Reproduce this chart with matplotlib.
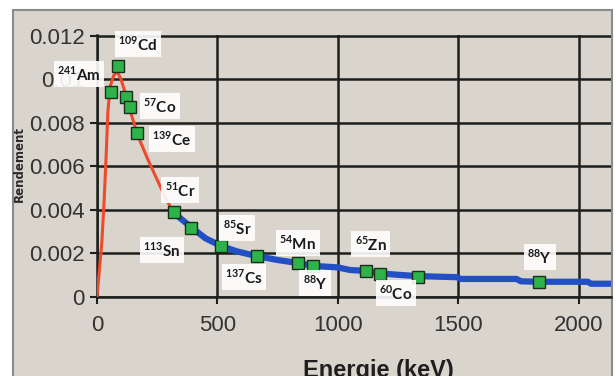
import numpy as np
import matplotlib
matplotlib.use("Agg")
import matplotlib.pyplot as plt
from matplotlib.patches import Rectangle
from matplotlib import font_manager

# efficiency curve, low energy part (red) and high energy part (blue)
red_x = [0, 8, 20, 30, 38, 45, 55, 70, 85, 100, 122, 145, 170, 212, 270, 315]
red_y = [0, 0.001, 0.0025, 0.0045, 0.0065, 0.0085, 0.0097, 0.0102, 0.01035,
         0.0100, 0.0092, 0.0083, 0.0074, 0.0063, 0.0049, 0.0039]
blue_x = [315, 392, 450, 514, 580, 662, 750, 835, 898, 1000, 1050, 1115, 1173,
          1250, 1332, 1494, 1510, 1741, 1760, 1836, 2037, 2050, 2135]
blue_y = [0.0039, 0.0032, 0.0027, 0.00235, 0.0021, 0.00188, 0.0017, 0.00156,
          0.00143, 0.00136, 0.00124, 0.0012, 0.00109, 0.00102, 0.00096, 0.00091,
          0.00083, 0.00083, 0.00072, 0.0007, 0.0007, 0.00061, 0.00061]

# measured points
energies = [59.5, 88, 122, 136, 166, 320, 392, 514, 662, 835, 898, 1115, 1173, 1332, 1836]
eff = [0.00943, 0.01062, 0.0092, 0.00874, 0.00754, 0.0039, 0.00317, 0.00235,
       0.00188, 0.00156, 0.00143, 0.0012, 0.00108, 0.00094, 0.0007]

# nuclide labels
lab_text = ["241", "109", "57", "139", "51", "113", "85", "137", "54", "88", "65", "60", "88"]
lab_name = ["Am", "Cd", "Co", "Ce", "Cr", "Sn", "Sr", "Cs", "Mn", "Y", "Zn", "Co", "Y"]
lab_x = [-75, 170, 261, 311, 344, 270, 581, 610, 834, 905, 1137, 1241, 1838]
lab_y = [0.01025, 0.01163, 0.00878, 0.00726, 0.00492, 0.00216, 0.00317, 0.00092,
         0.00248, 0.00064, 0.00244, 0.00018, 0.00184]

xticks = [0, 500, 1000, 1500, 2000]
yticks = [0, 0.002, 0.004, 0.006, 0.008, 0.01, 0.012]
ytick_labels = ["0", "0.002", "0.004", "0.006", "0.008", "0.01", "0.012"]

names = {f.name for f in font_manager.fontManager.ttflist}
if "Liberation Sans Narrow" in names:
    narrow, tsize = "Liberation Sans Narrow", 20
else:
    narrow, tsize = "Liberation Sans", 16
lab_font = "Lato" if "Lato" in names else "DejaVu Sans"
plt.rcParams["mathtext.fontset"] = "custom"
plt.rcParams["mathtext.bf"] = lab_font + ":bold"

bg = "#d9d4cc"
fig = plt.figure(figsize=(6.16, 3.76), dpi=100, facecolor="white")
fig.patches.append(Rectangle((13 / 616, -0.05), (612 - 13) / 616, 1.05 - 10 / 376,
                             transform=fig.transFigure, facecolor=bg,
                             edgecolor="#8a8a8a", linewidth=1.5, zorder=-5))

ax = fig.add_axes([97 / 616, 79 / 376, (611 - 97) / 616, (297 - 34.9) / 376])
ax.set_zorder(2)
ax.patch.set_visible(False)

ax.plot(red_x, red_y, color="#ee4a2c", lw=2.2, zorder=3, solid_capstyle="round")
ax.plot(blue_x, blue_y, color="#2250c4", lw=4.5, zorder=3)
ax.plot(energies, eff, "s", ms=8, mfc="#2eb24a", mec="#1b2e1b", mew=1.0, zorder=4)

for t, n, x, y in zip(lab_text, lab_name, lab_x, lab_y):
    ax.text(x, y, r"$^{\mathbf{" + t + "}}$" + n, ha="center", va="center",
            fontsize=11, fontweight="bold", family=lab_font, color="#1a1a1a",
            clip_on=False, zorder=5,
            bbox=dict(facecolor="white", edgecolor="none", pad=2.5, alpha=0.9))

ax.set_xlim(0, 2133)
ax.set_ylim(0, 0.01205)
ax.set_xticks(xticks)
ax.set_yticks(yticks)
ax.set_yticklabels(ytick_labels)
ax.grid(True, color="#1c1f1c", lw=1.8)
ax.set_axisbelow(True)
for s in ["top", "right"]:
    ax.spines[s].set_visible(False)
for s in ["left", "bottom"]:
    ax.spines[s].set_color("#1c1f1c")
    ax.spines[s].set_linewidth(1.8)
ax.tick_params(axis="both", colors="#1c1f1c", width=1.5, length=5, direction="out",
               labelsize=tsize, labelcolor="#333333")
ax.tick_params(axis="x", pad=8)
ax.tick_params(axis="y", pad=4)
for lb in ax.get_xticklabels() + ax.get_yticklabels():
    lb.set_family(narrow)

fig.text(19 / 616, 1 - 164 / 376, "Rendement", rotation=90, ha="center", va="center",
         fontsize=8.5, fontweight="bold", color="#2a2a2a")
fig.text(378 / 616, 1 - 371 / 376, "Energie (keV)", ha="center", va="center",
         fontsize=tsize + 1, fontweight="bold", color="#1f1f1f", family=narrow)

fig.savefig("out.png", dpi=100, facecolor="white")
